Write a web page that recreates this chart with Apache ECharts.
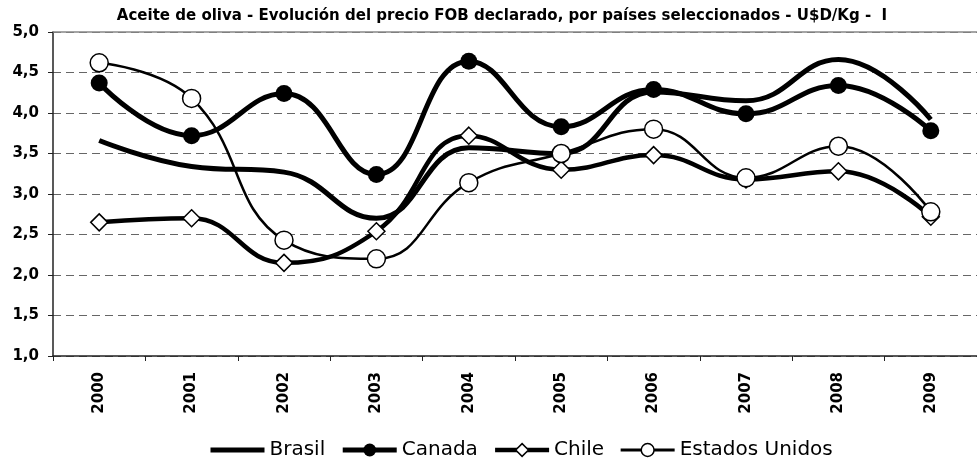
<!DOCTYPE html>
<html>
<head>
<meta charset="utf-8">
<script src="https://cdn.jsdelivr.net/npm/echarts@6/dist/echarts.min.js"></script>
<style>html,body{margin:0;padding:0;background:#fff}#c{width:977px;height:464px}</style>
</head>
<body>
<div id="c"></div>
<script>
const titleText = 'Aceite de oliva - Evolución del precio FOB declarado, por países seleccionados - U$D/Kg -  I';
const categories = ['2000','2001','2002','2003','2004','2005','2006','2007','2008','2009'];
const seriesNames = ['Brasil','Canada','Chile','Estados Unidos'];
const brasil = [3.66, 3.34, 3.27, 2.70, 3.57, 3.50, 4.26, 4.15, 4.66, 3.92];
const canada = [4.37, 3.72, 4.24, 3.24, 4.64, 3.83, 4.29, 3.99, 4.34, 3.78];
const chile = [2.65, 2.70, 2.15, 2.54, 3.72, 3.30, 3.48, 3.18, 3.28, 2.72];
const estadosUnidos = [4.62, 4.18, 2.43, 2.20, 3.14, 3.50, 3.80, 3.20, 3.59, 2.78];
const yMin = 1, yMax = 5, yStep = 0.5;

const FONT = "'DejaVu Sans', sans-serif";
const chart = echarts.init(document.getElementById('c'), null, {renderer: 'canvas'});
const smooth = 0.45;
chart.setOption({
  animation: false,
  backgroundColor: '#fff',
  title: {
    text: titleText,
    left: 497, textAlign: 'center', top: 2,
    textStyle: {fontFamily: "'DejaVu Sans Condensed', 'Liberation Sans Narrow', 'DejaVu Sans', sans-serif", fontWeight: 'bold', fontSize: 16.7, color: '#000'}
  },
  legend: {
    data: [
      {name: seriesNames[0], lineStyle: {width: 5, color: '#000'}, itemStyle: {color: 'transparent', borderWidth: 0, opacity: 0}},
      {name: seriesNames[1], lineStyle: {width: 5, color: '#000'}, itemStyle: {color: '#000', borderWidth: 0}},
      {name: seriesNames[2], lineStyle: {width: 4.5, color: '#000'}, itemStyle: {color: '#fff', borderColor: '#000', borderWidth: 1.5}},
      {name: seriesNames[3], lineStyle: {width: 3, color: '#000'}, itemStyle: {color: '#fff', borderColor: '#000', borderWidth: 1.5}}
    ],
    left: 203, top: 435,
    itemWidth: 54, itemHeight: 16, itemGap: 15,
    textStyle: {fontFamily: FONT, fontSize: 20, color: '#000'}
  },
  grid: {left: 53, top: 32, width: 933, height: 324, containLabel: false},
  xAxis: [{
    type: 'category', data: categories, boundaryGap: true,
    axisLine: {lineStyle: {color: '#222', width: 1.5}},
    axisTick: {show: true, length: 5, lineStyle: {color: '#222'}},
    axisLabel: {rotate: 90, margin: 16, fontFamily: FONT, fontWeight: 'bold', fontSize: 15, color: '#000'}
  }, {
    type: 'category', data: categories, position: 'top',
    axisLine: {show: true, lineStyle: {color: '#888', width: 1.5}},
    axisTick: {show: false}, axisLabel: {show: false}
  }],
  yAxis: {
    type: 'value', min: yMin, max: yMax, interval: yStep,
    axisLine: {show: true, lineStyle: {color: '#222', width: 1.5}},
    axisTick: {show: true, length: 5, lineStyle: {color: '#222'}},
    axisLabel: {margin: 14, fontFamily: FONT, fontWeight: 'bold', fontSize: 15, color: '#000',
      formatter: v => v.toFixed(1).replace('.', ',')},
    splitLine: {show: true, lineStyle: {color: '#666', width: 1, type: [8, 5]}}
  },
  series: [
    {name: seriesNames[0], type: 'line', data: brasil, smooth: smooth, showSymbol: false, symbol: 'none',
      lineStyle: {color: '#000', width: 5}, itemStyle: {color: '#000'}},
    {name: seriesNames[1], type: 'line', data: canada, smooth: smooth, symbol: 'circle', symbolSize: 17,
      lineStyle: {color: '#000', width: 5}, itemStyle: {color: '#000', borderColor: '#000', borderWidth: 0}},
    {name: seriesNames[2], type: 'line', data: chile, smooth: smooth, symbol: 'diamond', symbolSize: [17, 17],
      lineStyle: {color: '#000', width: 4.5}, itemStyle: {color: '#fff', borderColor: '#000', borderWidth: 1.5}},
    {name: seriesNames[3], type: 'line', data: estadosUnidos, smooth: smooth, symbol: 'circle', symbolSize: 18,
      lineStyle: {color: '#000', width: 2.5}, itemStyle: {color: '#fff', borderColor: '#000', borderWidth: 1.5}}
  ]
});
</script>
</body>
</html>
